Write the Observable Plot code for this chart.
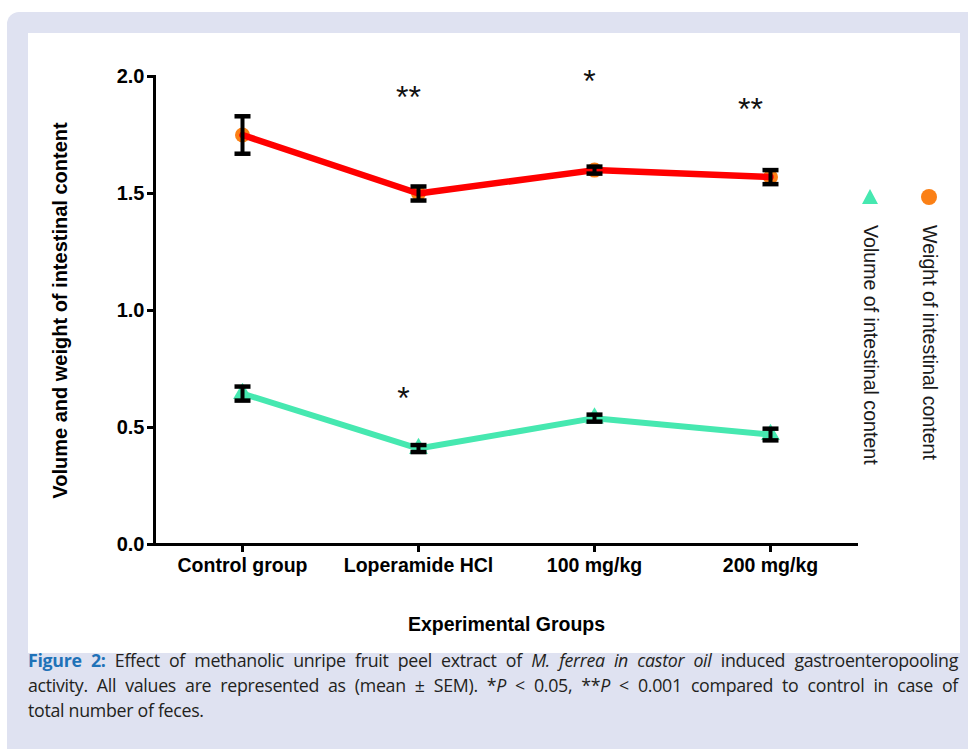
<!DOCTYPE html>
<html>
<head>
<meta charset="utf-8">
<script src="https://cdn.jsdelivr.net/npm/d3@7"></script>
<script src="https://cdn.jsdelivr.net/npm/@observablehq/plot@0.6"></script>
<style>
  html, body { margin: 0; padding: 0; background: #ffffff; width: 968px; height: 749px; overflow: hidden; }
  #outer { position: absolute; left: 7px; top: 12px; width: 961px; height: 737px; background: #dfe2f1; border-radius: 12px 0 0 0; }
  #panel { position: absolute; left: 28px; top: 33px; width: 932px; height: 620px; background: #ffffff; }
  #chart { position: absolute; left: 0; top: 0; }
  .leg { position: absolute; top: 155px; width: 24px; display: flex; flex-direction: column; align-items: center; }
  .leg span { writing-mode: vertical-rl; font-family: "Liberation Sans", Arial, sans-serif; font-size: 19.6px; color: #1a1a1a; margin-top: 19px; white-space: nowrap; }
  #caption { position: absolute; left: 28px; top: 648px; width: 930px; font-family: "Open Sans", sans-serif; font-stretch: 100%; letter-spacing: -0.3px; font-size: 17.5px; line-height: 24.8px; color: #231f20; }
  #caption .ln { white-space: nowrap; height: 24.8px; }
  #caption.fitted .just { text-align: justify; text-align-last: justify; }
  #caption b { color: #1f72b8; }
</style>
</head>
<body>
<div id="outer"></div>
<div id="panel"><div id="chart"></div></div>
<div id="caption"></div>
<script>
// ---- data ----
const groups = ["Control group", "Loperamide HCl", "100 mg/kg", "200 mg/kg"];
const weightMean = [1.75, 1.50, 1.60, 1.57];
const weightSem  = [0.08, 0.03, 0.015, 0.03];
const volumeMean = [0.645, 0.41, 0.54, 0.47];
const volumeSem  = [0.03, 0.015, 0.015, 0.025];
const yTicks = [0, 0.5, 1.0, 1.5, 2.0];
const seriesNames = ["Weight of intestinal content", "Volume of intestinal content"];
const seriesColors = ["#ff0000", "#46e8b0"];
const markerColors = ["#fb8016", "#46e8b0"];
const starGroups = ["Loperamide HCl", "100 mg/kg", "200 mg/kg", "Loperamide HCl"];
const starValues = [1.93, 2.0, 1.88, 0.645];
const starLabels = ["**", "*", "**", "*"];
const starShift = [-10, -5, -20, -15];

const weight = groups.map((g, i) => ({group: g, mean: weightMean[i], lo: weightMean[i] - weightSem[i], hi: weightMean[i] + weightSem[i]}));
const volume = groups.map((g, i) => ({group: g, mean: volumeMean[i], lo: volumeMean[i] - volumeSem[i], hi: volumeMean[i] + volumeSem[i]}));
const both = weight.concat(volume);

const cap = { draw(ctx, size) { const w = Math.sqrt(size / Math.PI); ctx.moveTo(-w, 0); ctx.lineTo(w, 0); } };

const starMarks = starLabels.map((t, i) =>
  Plot.text([{group: starGroups[i], v: starValues[i], t}], {
    x: "group", y: "v", text: "t", dx: starShift[i], dy: 5,
    fontSize: 32, fontWeight: "normal", fill: "#111"
  })
);

const chart = Plot.plot({
  width: 932,
  height: 620,
  marginLeft: 126,
  marginRight: 102,
  marginTop: 43,
  marginBottom: 109,
  style: { fontFamily: "'Liberation Sans', Arial, sans-serif", fontWeight: "bold", fontSize: "20px", color: "#000", background: "transparent" },
  x: { type: "point", domain: groups, padding: 0.5, label: null },
  y: { domain: [0, 2], ticks: yTicks, label: null },
  marks: [
    Plot.frame({ anchor: "left", strokeWidth: 3, stroke: "#000" }),
    Plot.ruleY([0], { strokeWidth: 3, stroke: "#000" }),
    Plot.axisY({ ticks: yTicks, tickFormat: d3.format(".1f"), tickSize: 7, tickPadding: 3, strokeWidth: 3, fontSize: 20,
      label: "Volume and weight of intestinal content", labelAnchor: "center", labelArrow: "none", labelOffset: 102, fontWeight: "bold" }),
    Plot.axisX({ tickSize: 8, tickPadding: 6, strokeWidth: 3, fontSize: 19.5,
      label: "Experimental Groups", labelAnchor: "center", labelArrow: "none", labelOffset: 86 }),
    Plot.dot(weight, { x: "group", y: "mean", r: 7.5, fill: markerColors[0] }),
    Plot.dot(volume, { x: "group", y: "mean", r: 7, symbol: "triangle", fill: markerColors[1] }),
    Plot.line(weight, { x: "group", y: "mean", stroke: seriesColors[0], strokeWidth: 6.5 }),
    Plot.line(volume, { x: "group", y: "mean", stroke: seriesColors[1], strokeWidth: 6 }),
    Plot.ruleX(both, { x: "group", y1: "lo", y2: "hi", stroke: "#000", strokeWidth: 4 }),
    Plot.dot(both, { x: "group", y: "lo", r: 8, symbol: cap, stroke: "#000", strokeWidth: 4.5, fill: "none" }),
    Plot.dot(both, { x: "group", y: "hi", r: 8, symbol: cap, stroke: "#000", strokeWidth: 4.5, fill: "none" }),
    ...starMarks
  ]
});
document.getElementById("chart").appendChild(chart);

// ---- legend (rotated, right side) ----
const panel = document.getElementById("panel");
const legendLeft = [889, 830];
seriesNames.forEach((name, i) => {
  const d = document.createElement("div");
  d.className = "leg";
  d.style.left = legendLeft[i] + "px";
  const sym = i === 0
    ? `<svg width="18" height="18"><circle cx="9" cy="9" r="8" fill="${markerColors[0]}"/></svg>`
    : `<svg width="18" height="18"><path d="M9,1 L17,16 L1,16 Z" fill="${markerColors[1]}"/></svg>`;
  d.innerHTML = sym + `<span>${name}</span>`;
  panel.appendChild(d);
});

// ---- caption ----
const capBox = document.getElementById("caption");
capBox.innerHTML =
  `<div class="ln just"><span id="l1"><b>Figure 2:</b> Effect of methanolic unripe fruit peel extract of <i>M. ferrea in castor oil</i> induced gastroenteropooling</span></div>` +
  `<div class="ln just">activity. All values are represented as (mean ± SEM). *<i>P</i> &lt; 0.05, **<i>P</i> &lt; 0.001 compared to control in case of</div>` +
  `<div class="ln">total number of feces.</div>`;
// fit the font size (measured before justification) so the first line fills the width
const w1 = document.getElementById("l1").getBoundingClientRect().width;
if (w1 > 0) capBox.style.fontSize = Math.max(15, Math.min(17.8, 17.5 * 922 / w1)).toFixed(2) + "px";
capBox.classList.add("fitted");
</script>
</body>
</html>
